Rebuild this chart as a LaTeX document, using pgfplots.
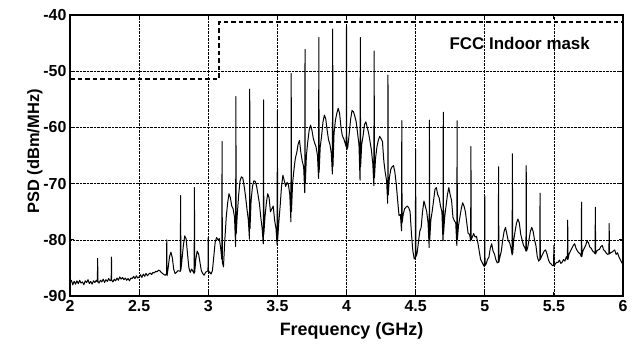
\documentclass[border=0pt]{standalone}
\usepackage{fontspec}
\setmainfont{Liberation Sans}
\usepackage{pgfplots}
\pgfplotsset{compat=1.18}
\begin{document}
\begin{tikzpicture}
\begin{axis}[
  scale only axis, width=553bp, height=281bp,
  xmin=2, xmax=6, ymin=-90, ymax=-40,
  xtick={2,2.5,...,6}, ytick={-90,-80,...,-40},
  xticklabels={2,2.5,3,3.5,4,4.5,5,5.5,6},
  /pgf/number format/assume math mode=true,
  tick label style={font=\bfseries\fontsize{16}{18}\selectfont},
  xlabel={Frequency (GHz)}, ylabel={PSD (dBm/MHz)},
  xlabel style={font=\bfseries\fontsize{18}{20}\selectfont, at={(rel axis cs:0.5,0)}, anchor=center, yshift=-35bp, xshift=5bp},
  ylabel style={font=\bfseries\fontsize{16.5}{18}\selectfont, at={(rel axis cs:0,0.515)}, anchor=center, yshift=35bp},
  grid=major, major grid style={densely dotted, black, line width=0.6bp},
  axis line style={line width=1.8bp},
  tick style={black, line width=0.8bp}, tick align=inside,
  major tick length=4bp,
  xticklabel style={yshift=-1bp},
  clip=true,
]
\coordinate (sw) at (rel axis cs:0,0);
\coordinate (ne) at (rel axis cs:1,1);
\addplot[black, line width=2bp, dash pattern=on 4.5bp off 3bp] coordinates {(2,-51.3) (3.08,-51.3) (3.08,-41.3) (6,-41.3)};
\addplot[black, line width=1bp, line join=round] coordinates {
(2.00,-87.6)(2.01,-87.2)(2.02,-88.0)(2.03,-87.4)(2.04,-87.9)(2.05,-87.3)(2.06,-87.8)(2.07,-87.2)(2.08,-87.7)(2.09,-87.5)
(2.10,-88.0)(2.11,-87.3)(2.12,-87.6)(2.13,-87.1)(2.14,-87.8)(2.15,-87.4)(2.16,-87.9)(2.17,-87.3)(2.18,-87.6)(2.19,-87.2)
(2.198,-87.5)(2.2,-83.3)(2.202,-87.4)(2.21,-87.7)(2.22,-87.2)(2.23,-87.5)(2.24,-87.0)(2.25,-87.6)(2.26,-87.1)(2.27,-87.4)
(2.28,-86.9)(2.29,-87.3)(2.298,-87.1)(2.3,-83.1)(2.302,-87.2)(2.31,-87.5)(2.32,-87.0)(2.33,-87.3)(2.34,-86.8)(2.35,-87.2)
(2.36,-86.6)(2.37,-87.0)(2.38,-86.7)(2.39,-87.1)(2.40,-86.8)(2.41,-87.2)(2.42,-86.9)(2.43,-87.3)(2.44,-86.8)(2.45,-86.9)
(2.46,-86.5)(2.47,-86.9)(2.48,-86.4)(2.49,-86.8)(2.50,-86.6)(2.51,-86.2)(2.52,-86.7)(2.53,-86.1)(2.54,-86.5)(2.55,-86.0)
(2.56,-86.4)(2.57,-86.1)(2.58,-85.9)(2.59,-86.2)(2.60,-85.8)(2.61,-85.9)(2.62,-85.6)(2.63,-85.7)(2.64,-85.4)(2.65,-85.5)
(2.66,-85.8)(2.67,-86.0)(2.68,-86.2)(2.69,-86.3)(2.698,-86.0)(2.7,-80.0)(2.702,-86.4)(2.71,-85.0)(2.72,-83.0)(2.73,-82.2)
(2.74,-83.2)(2.75,-85.2)(2.76,-86.0)(2.77,-85.8)(2.78,-85.5)(2.798,-85.6)(2.8,-72.1)(2.802,-85.4)(2.81,-83.5)(2.82,-81.0)
(2.83,-79.3)(2.84,-79.8)(2.85,-82.5)(2.86,-85.0)(2.87,-85.8)(2.88,-85.2)(2.898,-86.0)(2.9,-70.7)(2.902,-85.8)(2.91,-83.5)
(2.92,-82.0)(2.93,-82.5)(2.94,-84.0)(2.95,-85.5)(2.96,-86.0)(2.97,-86.3)(2.98,-85.8)(2.998,-85.5)(3.0,-79.6)(3.002,-86.0)
(3.01,-85.7)(3.02,-86.1)(3.03,-85.5)(3.04,-83.0)(3.05,-80.4)(3.06,-79.6)(3.07,-80.0)(3.08,-79.8)(3.09,-81.5)(3.098,-83.5)
(3.1,-62.5)(3.102,-84.0)(3.11,-84.8)(3.12,-80.0)(3.13,-76.0)(3.14,-73.5)(3.15,-71.8)(3.16,-72.5)(3.17,-74.0)(3.18,-74.5)
(3.19,-76.0)(3.198,-81.2)(3.2,-54.5)(3.202,-79.0)(3.21,-75.5)(3.22,-72.0)(3.23,-69.5)(3.24,-68.8)(3.25,-69.0)(3.26,-70.5)
(3.27,-72.3)(3.28,-74.5)(3.29,-76.5)(3.298,-79.9)(3.3,-53.2)(3.302,-78.0)(3.31,-73.0)(3.32,-70.5)(3.33,-69.5)(3.34,-69.6)
(3.35,-70.5)(3.36,-72.0)(3.37,-73.5)(3.38,-76.0)(3.39,-78.0)(3.398,-80.7)(3.4,-55.1)(3.402,-79.0)(3.41,-76.0)(3.42,-73.5)
(3.43,-71.8)(3.44,-72.5)(3.45,-75.0)(3.46,-74.5)(3.47,-74.0)(3.48,-76.5)(3.49,-78.0)(3.498,-80.9)(3.5,-57.0)(3.502,-80.0)
(3.51,-77.0)(3.52,-74.0)(3.53,-70.5)(3.54,-68.5)(3.55,-69.5)(3.56,-70.5)(3.57,-69.8)(3.58,-70.2)(3.59,-72.0)(3.598,-76.8)
(3.6,-50.4)(3.602,-75.0)(3.61,-70.0)(3.62,-67.5)(3.63,-65.5)(3.64,-64.5)(3.65,-63.0)(3.66,-62.3)(3.67,-64.5)(3.68,-66.0)
(3.69,-67.0)(3.698,-71.6)(3.7,-46.1)(3.702,-70.0)(3.71,-65.0)(3.72,-62.5)(3.73,-60.5)(3.74,-59.6)(3.75,-60.5)(3.76,-62.0)
(3.77,-62.8)(3.78,-63.5)(3.79,-65.0)(3.798,-69.1)(3.8,-44.0)(3.802,-68.0)(3.81,-63.5)(3.82,-61.5)(3.83,-59.0)(3.84,-57.8)
(3.85,-58.5)(3.86,-60.5)(3.87,-62.2)(3.88,-63.0)(3.89,-64.6)(3.898,-68.3)(3.9,-42.5)(3.902,-67.0)(3.91,-61.0)(3.92,-58.7)
(3.93,-57.5)(3.94,-56.6)(3.95,-57.5)(3.96,-60.0)(3.97,-61.5)(3.98,-62.0)(3.99,-62.8)(3.998,-63.5)(4.0,-42.0)(4.002,-64.0)
(4.01,-63.4)(4.02,-61.0)(4.03,-58.5)(4.04,-57.0)(4.05,-57.2)(4.06,-58.0)(4.07,-59.0)(4.08,-61.0)(4.09,-63.0)(4.098,-69.4)
(4.1,-44.0)(4.102,-67.0)(4.11,-63.0)(4.12,-61.5)(4.13,-59.5)(4.14,-59.0)(4.15,-60.0)(4.16,-61.0)(4.17,-62.5)(4.18,-64.0)
(4.19,-66.4)(4.198,-70.4)(4.2,-46.4)(4.202,-69.0)(4.21,-65.5)(4.22,-63.5)(4.23,-62.3)(4.24,-61.6)(4.25,-62.0)(4.26,-62.5)
(4.27,-66.0)(4.28,-68.0)(4.29,-69.5)(4.298,-73.5)(4.3,-50.7)(4.302,-72.0)(4.31,-69.0)(4.32,-67.5)(4.33,-67.0)(4.34,-66.8)
(4.35,-68.0)(4.36,-70.1)(4.37,-73.0)(4.38,-75.7)(4.39,-75.5)(4.398,-78.4)(4.4,-58.8)(4.402,-77.0)(4.41,-75.5)(4.42,-74.5)
(4.43,-74.2)(4.44,-74.0)(4.45,-74.3)(4.46,-75.0)(4.47,-79.0)(4.48,-82.0)(4.49,-83.4)(4.498,-83.2)(4.5,-63.9)(4.502,-83.0)
(4.51,-82.5)(4.52,-80.5)(4.53,-78.5)(4.54,-77.8)(4.55,-75.0)(4.56,-73.1)(4.57,-74.0)(4.58,-75.0)(4.59,-77.0)(4.598,-81.4)
(4.6,-58.7)(4.602,-80.0)(4.61,-76.5)(4.62,-74.9)(4.63,-73.0)(4.64,-71.0)(4.65,-70.7)(4.66,-72.0)(4.67,-72.5)(4.68,-74.0)
(4.69,-75.0)(4.698,-80.2)(4.7,-57.3)(4.702,-79.0)(4.71,-76.0)(4.72,-74.0)(4.73,-72.0)(4.74,-70.7)(4.75,-72.0)(4.76,-73.0)
(4.77,-76.0)(4.78,-76.6)(4.79,-77.0)(4.798,-81.0)(4.8,-58.8)(4.802,-80.0)(4.81,-77.5)(4.82,-76.0)(4.83,-74.5)(4.84,-73.4)
(4.85,-74.0)(4.86,-75.0)(4.87,-77.0)(4.88,-78.9)(4.89,-79.0)(4.898,-80.2)(4.9,-63.4)(4.902,-80.0)(4.91,-79.5)(4.92,-78.9)
(4.93,-79.5)(4.94,-79.4)(4.95,-80.5)(4.96,-82.0)(4.97,-83.5)(4.98,-84.0)(4.99,-84.5)(4.998,-84.8)(5.0,-72.2)(5.002,-84.6)
(5.01,-84.3)(5.02,-83.5)(5.03,-83.1)(5.04,-81.5)(5.05,-80.7)(5.06,-82.0)(5.07,-82.5)(5.08,-83.5)(5.09,-84.1)(5.098,-84.0)
(5.1,-67.0)(5.102,-84.0)(5.11,-83.0)(5.12,-82.0)(5.13,-80.0)(5.14,-78.5)(5.15,-77.8)(5.16,-79.0)(5.17,-80.2)(5.18,-80.5)
(5.19,-81.5)(5.198,-82.7)(5.2,-64.7)(5.202,-82.5)(5.21,-80.0)(5.22,-78.4)(5.23,-77.0)(5.24,-76.3)(5.25,-77.0)(5.26,-79.0)
(5.27,-80.0)(5.28,-81.0)(5.29,-81.4)(5.298,-82.0)(5.3,-66.8)(5.302,-82.0)(5.31,-81.5)(5.32,-80.0)(5.33,-78.5)(5.34,-77.8)
(5.35,-78.5)(5.36,-80.0)(5.37,-81.0)(5.38,-83.0)(5.39,-83.8)(5.398,-83.5)(5.4,-71.7)(5.402,-83.5)(5.41,-83.0)(5.42,-82.5)
(5.43,-82.0)(5.44,-81.8)(5.45,-82.5)(5.46,-83.5)(5.47,-84.1)(5.48,-84.3)(5.49,-84.6)(5.498,-84.5)(5.5,-81.0)(5.502,-84.7)
(5.51,-84.3)(5.52,-84.0)(5.53,-84.0)(5.54,-83.6)(5.55,-84.2)(5.56,-84.0)(5.57,-83.5)(5.58,-83.8)(5.59,-83.0)(5.598,-83.5)
(5.6,-76.5)(5.602,-83.5)(5.61,-82.5)(5.62,-82.0)(5.63,-81.5)(5.64,-81.0)(5.65,-80.7)(5.66,-81.5)(5.67,-82.0)(5.68,-82.3)
(5.69,-82.5)(5.698,-83.0)(5.7,-73.3)(5.702,-83.0)(5.71,-82.0)(5.72,-81.5)(5.73,-81.0)(5.74,-80.2)(5.75,-80.5)(5.76,-81.3)
(5.77,-81.5)(5.78,-82.0)(5.79,-82.2)(5.798,-82.5)(5.8,-74.2)(5.802,-82.5)(5.81,-82.0)(5.82,-81.8)(5.83,-81.7)(5.84,-81.2)
(5.85,-81.0)(5.86,-81.8)(5.87,-82.0)(5.88,-82.4)(5.89,-82.6)(5.898,-82.5)(5.9,-77.1)(5.902,-82.5)(5.91,-82.3)(5.92,-82.2)
(5.93,-82.0)(5.94,-81.8)(5.95,-82.6)(5.96,-82.3)(5.97,-83.0)(5.98,-83.5)(5.99,-84.0)(6.0,-84.4)
};
\node[font=\bfseries\fontsize{17}{19}\selectfont] at (axis cs:5.253,-45.1) {FCC Indoor mask};
\end{axis}
\pgfresetboundingbox
\useasboundingbox ([shift={(-70bp,-48bp)}]sw) rectangle ([shift={(16bp,15bp)}]ne);
\end{tikzpicture}
\end{document}
